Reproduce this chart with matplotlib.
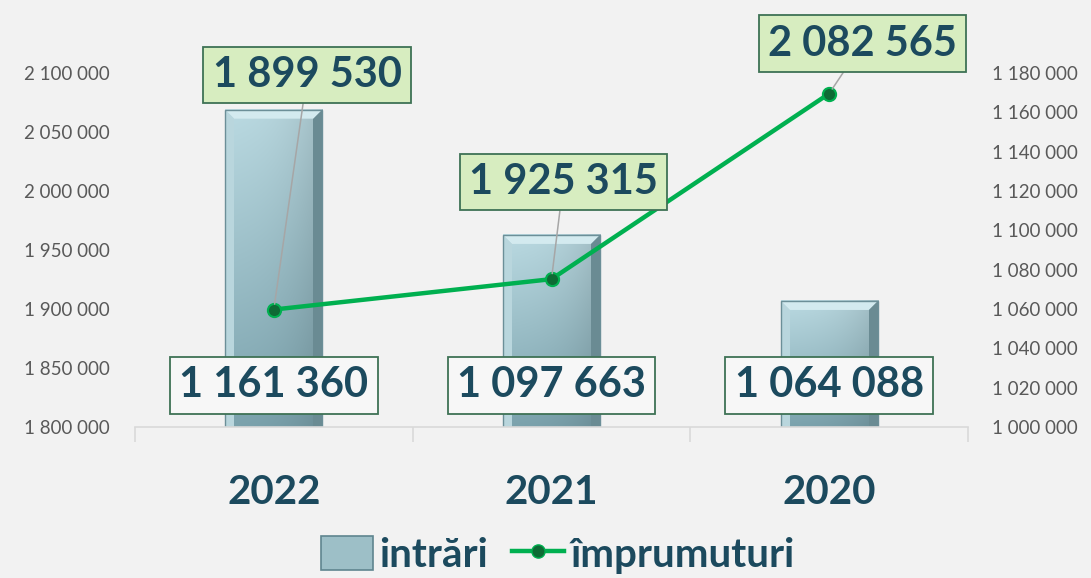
import numpy as np
import matplotlib
matplotlib.use("Agg")
import matplotlib.pyplot as plt
from matplotlib.patches import Patch, Polygon
from matplotlib.lines import Line2D
from matplotlib.ticker import FuncFormatter, FixedLocator

# =====================================
# Data
# =====================================
years = ["2022", "2021", "2020"]
intrari = [1161360, 1097663, 1064088]          # bars, right axis
imprumuturi = [1899530, 1925315, 2082565]      # line, left axis

left_ticks = [1800000, 1850000, 1900000, 1950000, 2000000, 2050000, 2100000]
right_ticks = [1000000, 1020000, 1040000, 1060000, 1080000, 1100000,
               1120000, 1140000, 1160000, 1180000]

# label offsets (points) for the line labels
line_label_offsets = [(24, 169), (8.6, 70), (24, 36)]

plt.rcParams['font.family'] = ['Lato', 'DejaVu Sans']

BG = '#F2F2F2'
DARK = '#1C4A5E'
GREEN = '#00B050'

fig = plt.figure(figsize=(10.91, 5.78), dpi=100, facecolor=BG)
W, H = 1091, 578
ax = fig.add_axes([135 / W, (H - 427) / H, (968 - 135) / W, (427 - 20) / H])
ax.set_facecolor('none')
ax2 = ax.twinx()

# axis ranges
ax.set_xlim(-0.5, 2.5)
ax.set_ylim(1000000, 1000000 + 407 * 180000 / 354)
ax2.set_ylim(1800000, 1800000 + 407 * 300000 / 354)

fmt = FuncFormatter(lambda v, p: f"{int(v):,}".replace(",", " "))

# =====================================
# Bars (intrări) - bevelled look
# =====================================
x = np.arange(len(years))
base = ax.get_ylim()[0]
bw = 0.35
bars = ax.bar(x, np.array(intrari) - base, bottom=base, width=bw,
              color='#A3C6CF', edgecolor='none', zorder=2)

inv = ax.transData.inverted()
dy_px = inv.transform((0, 9))[1] - inv.transform((0, 0))[1]
dx_px = inv.transform((9, 0))[0] - inv.transform((0, 0))[0]

for b in bars:
    x0, y0, w, h = b.get_x(), b.get_y(), b.get_width(), b.get_height()
    ny, nx = 100, 60
    t = np.linspace(0, 1, ny)[:, None]
    top = np.array([0.71, 0.83, 0.86])
    bot = np.array([0.47, 0.62, 0.66])
    col = top[None, None, :] * (1 - t[..., None]) + bot[None, None, :] * t[..., None]
    s = np.linspace(0, 1, nx)
    shade = 1.0 - 0.12 * s ** 3 + 0.03 * (1 - s)
    img = np.clip(col * shade[None, :, None], 0, 1)
    img = np.broadcast_to(img, (ny, nx, 3))
    ax.imshow(img, extent=[x0, x0 + w, y0, y0 + h], aspect='auto',
              origin='upper', zorder=2.1, clip_path=b, interpolation='bilinear')
    xt = x0 + w
    yt = y0 + h
    # bevel faces
    ax.add_patch(Polygon([(x0, yt), (xt, yt), (xt - dx_px, yt - dy_px), (x0 + dx_px, yt - dy_px)],
                         closed=True, fc='#D3EAEF', ec='none', zorder=2.2))
    ax.add_patch(Polygon([(xt, yt), (xt, y0), (xt - dx_px, y0), (xt - dx_px, yt - dy_px)],
                         closed=True, fc='#6A8B93', ec='none', zorder=2.2))
    ax.add_patch(Polygon([(x0, yt), (x0, y0), (x0 + dx_px, y0), (x0 + dx_px, yt - dy_px)],
                         closed=True, fc='#B9D6DD', ec='none', zorder=2.2))
    ax.add_patch(Polygon([(x0, yt), (xt, yt), (xt, y0), (x0, y0)],
                         closed=True, fill=False, ec='#6C8F98', lw=1.0, zorder=2.3))

for xi, v in zip(x, intrari):
    ax.annotate(fmt(v), xy=(xi, base), xytext=(0, 30), textcoords='offset points',
                ha='center', va='center', fontsize=30, fontweight='bold', color=DARK,
                bbox=dict(boxstyle='square,pad=0.22', fc='#F7F7F7', ec='#3E7255', lw=1.3),
                zorder=5)

# =====================================
# Line (împrumuturi)
# =====================================
ax2.plot(x, imprumuturi, color=GREEN, lw=3.2, marker='o', markersize=9.5,
         markerfacecolor='#0E6B35', markeredgecolor=GREEN, markeredgewidth=1.5,
         zorder=4, solid_capstyle='round')

for xi, v, off in zip(x, imprumuturi, line_label_offsets):
    ax2.annotate(fmt(v), xy=(xi, v), xytext=off, textcoords='offset points',
                 ha='center', va='center', fontsize=30, fontweight='bold', color=DARK,
                 bbox=dict(boxstyle='square,pad=0.22', fc='#D7EDC0', ec='#3E7255', lw=1.3),
                 arrowprops=dict(arrowstyle='-', color='#A6A6A6', lw=1.1,
                                 shrinkA=0, shrinkB=4),
                 zorder=6)

# =====================================
# Axes styling
# =====================================
ax.yaxis.tick_right()
ax.yaxis.set_major_locator(FixedLocator(right_ticks))
ax.yaxis.set_major_formatter(fmt)
ax2.yaxis.tick_left()
ax2.yaxis.set_major_locator(FixedLocator(left_ticks))
ax2.yaxis.set_major_formatter(fmt)

ax.tick_params(axis='y', length=0, pad=17, labelsize=13.5, labelcolor='#595959')
ax2.tick_params(axis='y', length=0, pad=18, labelsize=13.5, labelcolor='#595959')

ax.set_xticks(x)
ax.set_xticklabels(years, fontsize=29, fontweight='bold', color=DARK)
ax.set_xticks([-0.5, 0.5, 1.5, 2.5], minor=True)
ax.tick_params(axis='x', which='major', length=0, pad=34)
ax.tick_params(axis='x', which='minor', length=11, color='#D9D9D9', width=1.2)

for a in (ax, ax2):
    for side in ('top', 'left', 'right'):
        a.spines[side].set_visible(False)
ax2.spines['bottom'].set_visible(False)
ax.spines['bottom'].set_color('#D9D9D9')
ax.spines['bottom'].set_linewidth(1.2)

# =====================================
# Legend
# =====================================
handles = [
    Patch(facecolor='#9DBFC7', edgecolor='#5F858F', lw=1.2),
    Line2D([0], [0], color=GREEN, lw=3.2, marker='o', markersize=9.5,
           markerfacecolor='#0E6B35', markeredgecolor=GREEN),
]
leg = fig.legend(handles, ['intrări', 'împrumuturi'], loc='center',
                 bbox_to_anchor=(0.511, 0.04), ncol=2, frameon=False,
                 handlelength=1.3, handleheight=0.9, handletextpad=0.15,
                 columnspacing=0.6,
                 prop={'size': 29, 'weight': 'bold'})
for t in leg.get_texts():
    t.set_color(DARK)

fig.savefig('out.png', dpi=100, facecolor=BG)
